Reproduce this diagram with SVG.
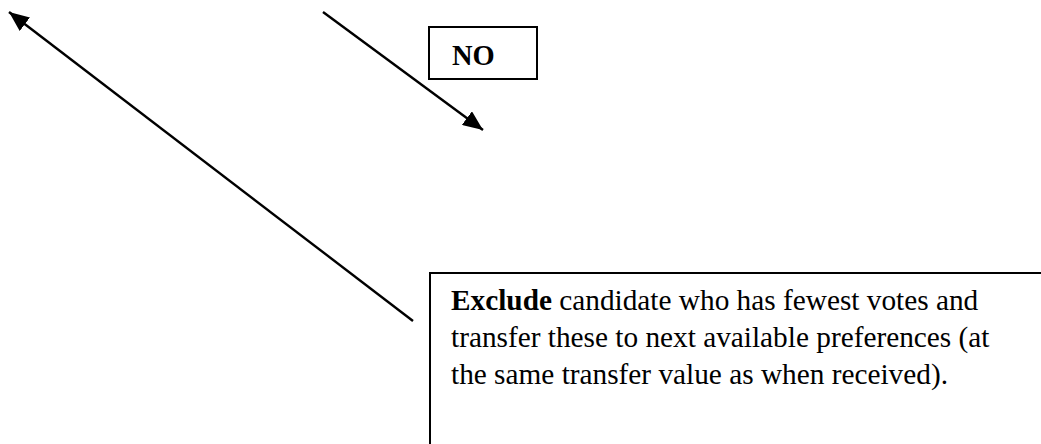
<svg xmlns="http://www.w3.org/2000/svg" width="1041" height="444" viewBox="0 0 1041 444">
<defs>
<style>
.box{fill:#fff;stroke:#000;stroke-width:2}
.conn{stroke:#000;stroke-width:2.4;fill:none}
.t{font-family:"Liberation Serif","Times New Roman",serif;font-size:29.3px;fill:#000}
.b{font-weight:bold}
</style>
<marker id="ah" markerUnits="userSpaceOnUse" markerWidth="20" markerHeight="17" viewBox="0 0 20 17" refX="20" refY="8.5" orient="auto">
<path d="M0,0 L20,8.5 L0,17 Z" fill="#000"/>
</marker>
</defs>
<g id="connectors">
<line class="conn" x1="413" y1="321" x2="9" y2="12" marker-end="url(#ah)"/>
<line class="conn" x1="323" y1="12" x2="483" y2="130" marker-end="url(#ah)"/>
</g>
<g id="node-no">
<rect class="box" x="429" y="27" width="108" height="52"/>
<text class="t b" x="452" y="65" style="font-size:28.5px">NO</text>
</g>
<g id="node-exclude">
<rect class="box" x="430" y="273" width="700" height="300"/>
<text class="t" x="451" y="310"><tspan class="b">Exclude</tspan> candidate who has fewest votes and</text>
<text class="t" x="451" y="347">transfer these to next available preferences (at</text>
<text class="t" x="451" y="384">the same transfer value as when received).</text>
</g>
</svg>
